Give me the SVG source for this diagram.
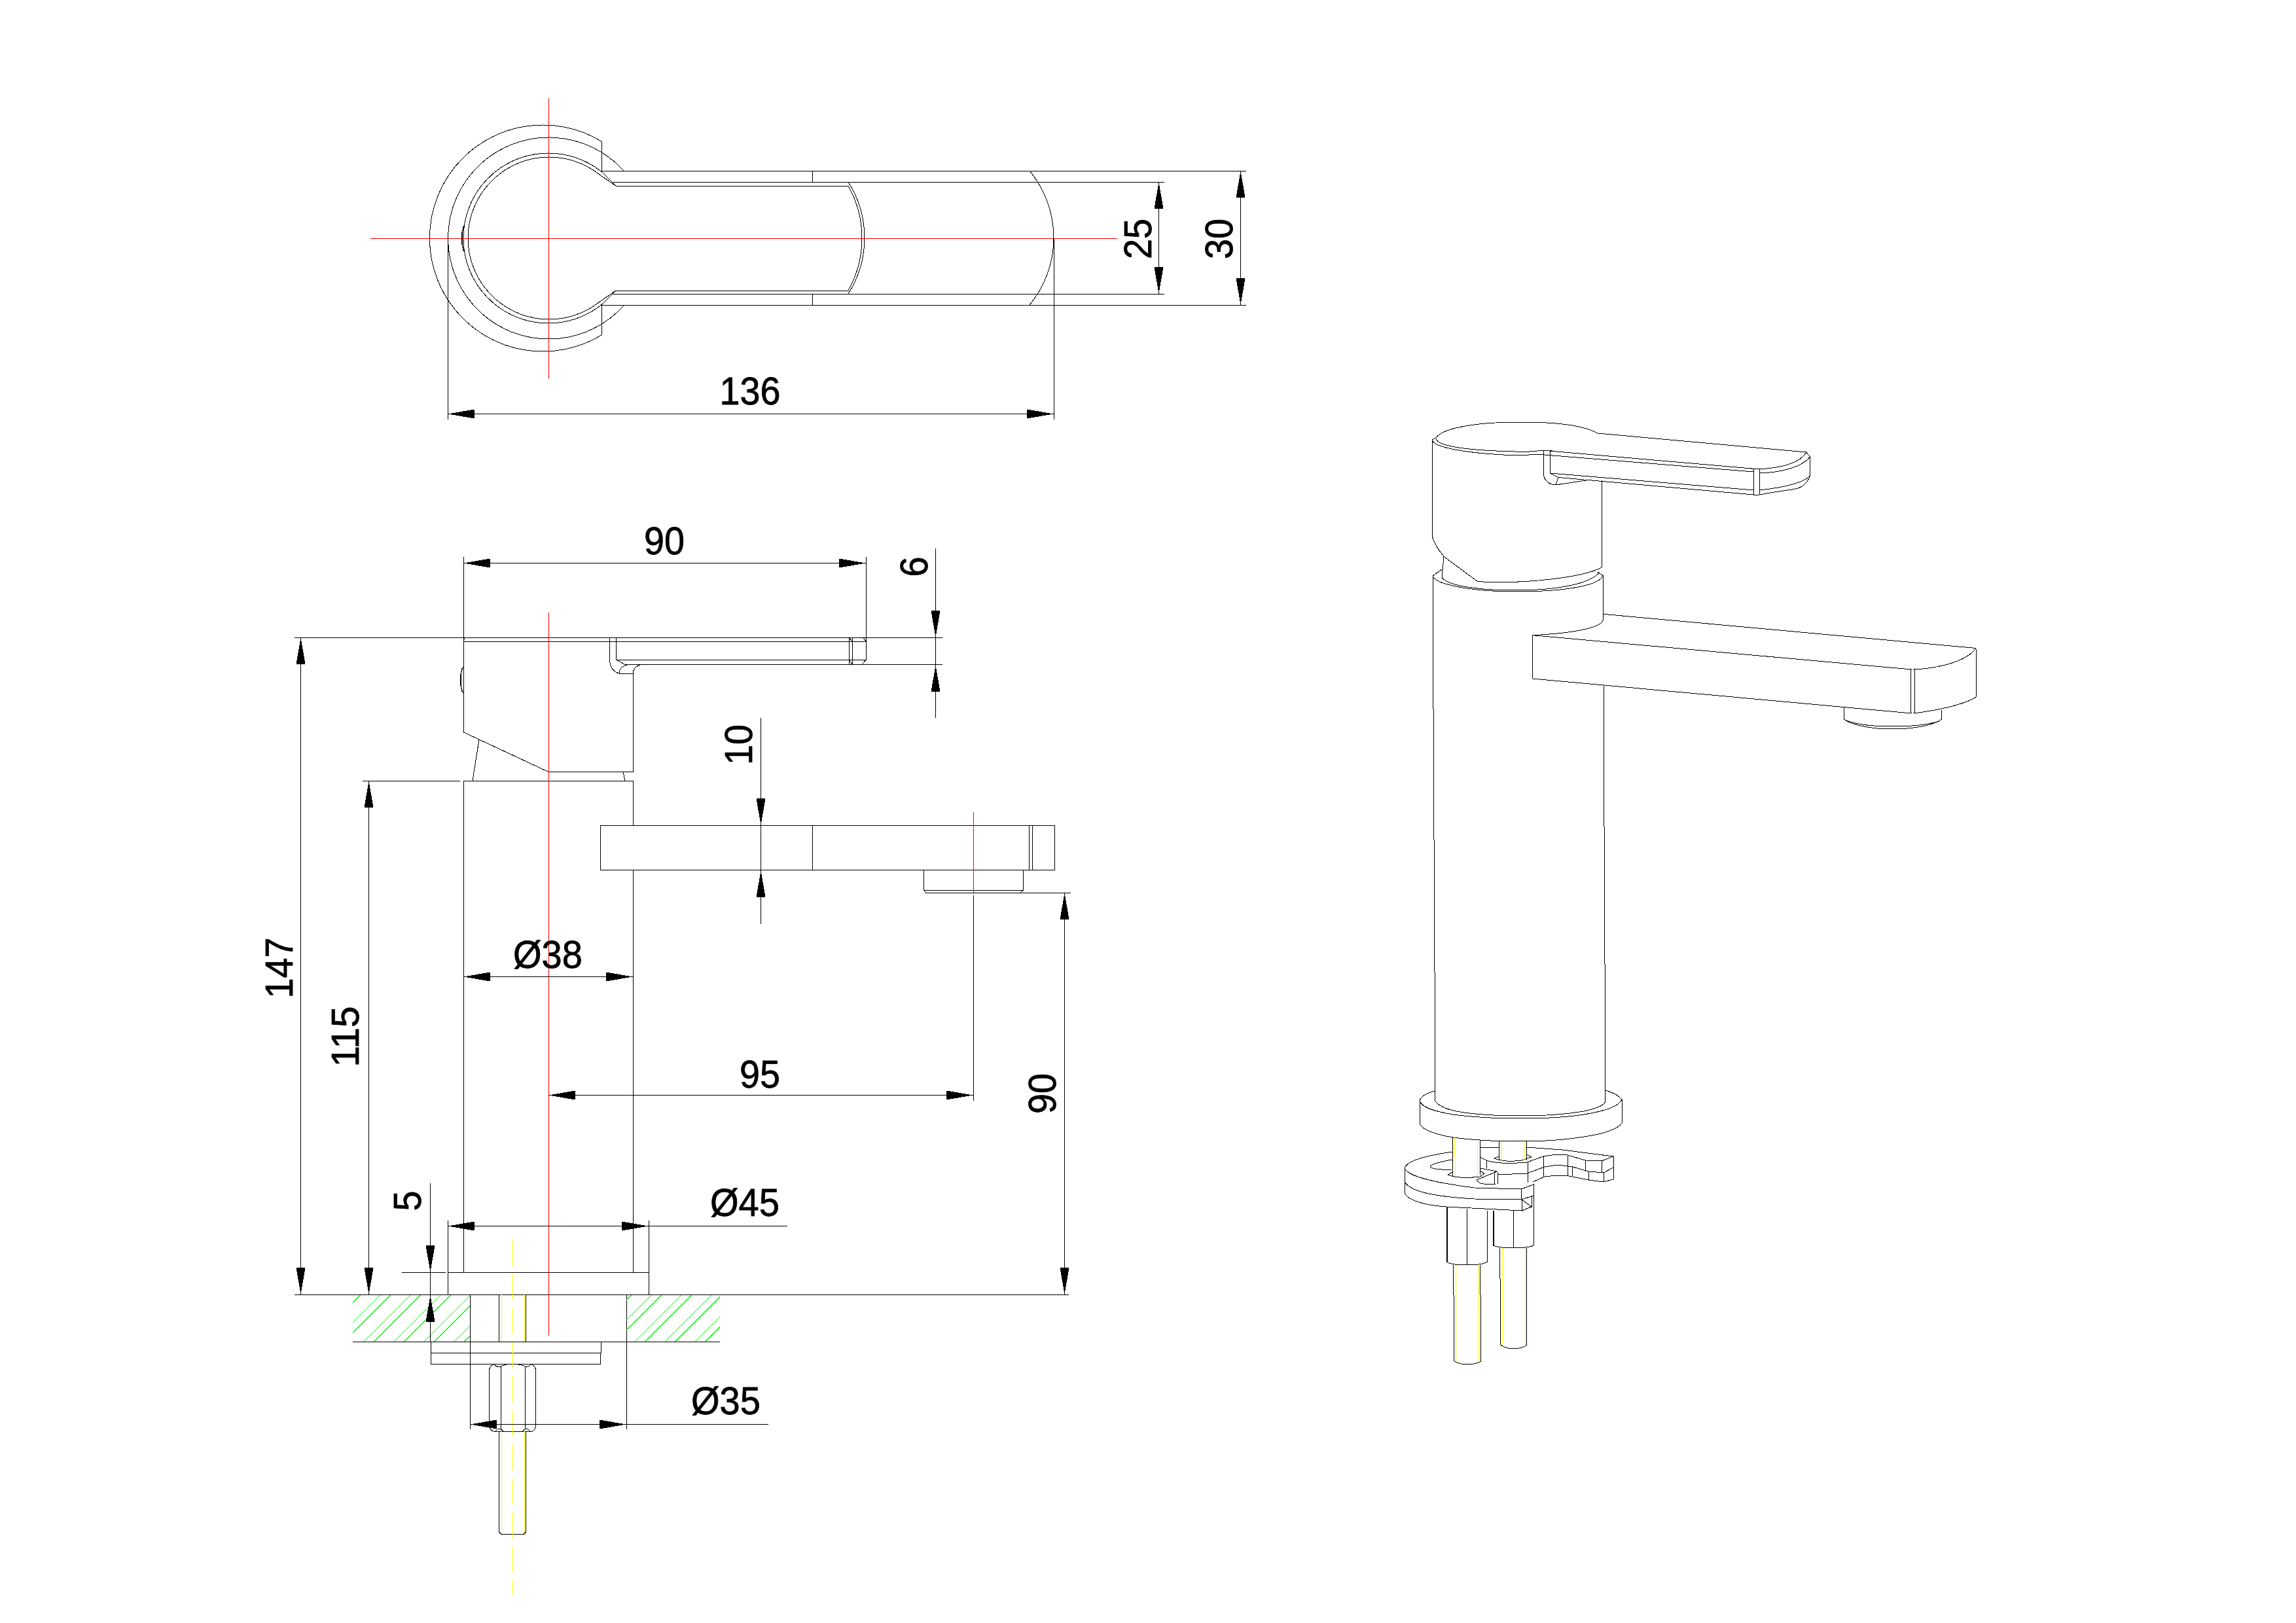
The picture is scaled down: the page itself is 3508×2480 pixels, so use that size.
<svg xmlns="http://www.w3.org/2000/svg" width="3508" height="2480" viewBox="0 0 3508 2480">
<style>
path,line{fill:none;stroke:#000;stroke-width:1;shape-rendering:crispEdges}
.r{stroke:#f00}
.y{stroke:#ff0}
.g{stroke:#0f0;stroke-width:1}
.ar{marker-start:url(#arw);marker-end:url(#arw)}
.ae{marker-end:url(#arw)}
text{font-family:"Liberation Sans",Arial,sans-serif;font-size:60px;fill:#000;stroke:#000;stroke-width:.8;text-anchor:middle}
</style>
<defs>
<marker id="arw" markerUnits="userSpaceOnUse" viewBox="-42 -8 43 16" refX="0" refY="0" markerWidth="43" markerHeight="16" orient="auto-start-reverse" overflow="visible"><path d="M-41-7L0 0L-41 7Z" style="fill:#000;stroke:none"/></marker>
<clipPath id="hatch"><path d="M539 1979H718V2050H539ZM957 1979H1100V2050H957Z"/></clipPath>
</defs>
<rect width="3508" height="2480" fill="#fff"/>

<g id="top-view">
<path d="M919 216A173 173 0 1 0 919 512M919 216V261M919 466V512"/>
<path d="M953 261A154 154 0 1 0 953 467"/>
<path d="M921 264A130 130 0 1 0 921 464M921 264L935 278M921 464L935 450"/>
<path d="M915 266A124 124 0 1 0 915 462M915 266L941 284M915 462L941 444M935 278L941 284M935 450L941 444"/>
<path d="M709 345Q701 364 709 384M708 346Q704 364 708 383"/>
<path d="M919 261.500H1904M919 466.500H1904M935 278.500H1779M935 449.500H1779M941 284.500H1296M941 444.500H1296"/>
<path d="M1241.500 261V278M1241.500 449V466"/>
<path d="M1296 278A159 159 0 0 1 1296 449M1296 284A163 163 0 0 1 1296 444"/>
<path d="M1573 261A160.500 160.500 0 0 1 1573 466"/>
<path class="r" d="M566 364.500H1707M838.500 150V579"/>
</g>

<g id="side-view">
<path d="M450 974.500H1440M708 980.500H1323M708.500 974V1119L838 1179.500H967.500V1029M946 1029.500H967M954 1015.500H1440M941 1008.500H1323"/>
<path d="M931.500 975V1008Q932 1025 946 1029M941.500 975V1008L954 1015M946 1029Q946 1018 960 1015.500M967 1029Q968 1018 980 1015.500"/>
<path d="M1297.500 974V1015M1302.500 974V1015M1297 974L1302 980M1297 1008L1302 1015M1323.500 851V1008L1317 1015M1319 974L1323 980M708 978L711 974"/>
<path d="M732 1130L722 1193M952 1179.500L955 1193"/>
<path d="M708 1193.500H967M708.500 1193V1944M967.500 1193V1261M967.500 1329V1944M554 1193.500H703"/>
<path d="M708 1019Q698 1039 708 1059M706 1021Q702 1039 706 1057"/>
<path d="M917.500 1261.500H1611V1329.500H917.500ZM1241.500 1261V1329M1572.500 1261V1329M1577.500 1261V1329"/>
<path d="M1411.500 1329V1360L1415 1364.500H1636M1563.500 1329V1360L1559 1364M1411 1360.500H1563"/>
<path d="M684 1944.500H991M684.500 1865V1978M991.500 1865V1978M614 1944.500H681M450 1978.500H1633"/>
<path d="M539 2050.500H1100M718.500 1978V2184M957.500 1978V2184"/>
<path class="g" clip-path="url(#hatch)" d="M2529.500 0L0 2529.500M2560 0L0 2560M2575.500 0L0 2575.500M2606 0L0 2606M2621.500 0L0 2621.500M2652 0L0 2652M2667.500 0L0 2667.500M2698 0L0 2698M2713.500 0L0 2713.500M2744 0L0 2744M2759.500 0L0 2759.500M2943.500 0L0 2943.500M2974 0L0 2974M2989.500 0L0 2989.500M3020 0L0 3020M3035.500 0L0 3035.500M3066 0L0 3066M3081.500 0L0 3081.500M3112 0L0 3112M3127.500 0L0 3127.500"/>
<path d="M658.500 2050V2084.500H917.500V2067.500M658 2067.500H918.500V2050"/>
<path d="M762.500 1978V2050M803.500 1978V2050M762.500 2187V2341L766 2344.500H800L803.500 2341V2187"/>
<path d="M754 2084.500Q747.500 2088 747.500 2095V2176Q748 2186 754 2187H813Q818.500 2186 818.500 2176V2095Q818.500 2088 812 2084.500M765.500 2088V2184M802.500 2088V2184M754 2084.500Q760 2090 765 2088Q772 2084 783 2084.500Q794 2084 802 2088Q806 2090 812 2084.500M757 2187Q762 2181 765 2184L769 2187M798 2187L802 2184Q805 2181 810 2187"/>
<path class="y" d="M766.500 1978V2050M801.500 1978V2050M766.500 2187V2342M801.500 2187V2342"/>
<path class="y" stroke-dasharray="40 12" d="M783.500 1895V2437"/>
<path class="r" d="M838.500 936V2041M1487.500 1241V1364"/>
<path d="M1487.500 1368V1682"/>
</g>

<g id="iso-view">
<path d="M2441 662L2760 691Q2762 694 2765.600 698V727Q2759 745 2740 747.700Q2710 752 2688 756H2679.500L2381 729.500"/>
<path d="M2441 662C2415 648 2370 645 2321 645C2260 645 2205 653 2194 669C2193 680 2230 688 2315 690Q2340 691 2355 688L2688 717C2720 715 2750 708 2760 691"/>
<path d="M2194 669L2188.500 672C2188 682 2230 692 2309 695.600L2355 694.600L2679.500 721M2688 723C2725 722 2755 712 2765.600 698"/>
<path d="M2368 723L2679.500 749M2688 749C2725 745 2755 738 2765.600 727"/>
<path d="M2358 688V723M2368 688V723M2358 723Q2360 740 2377 741L2423 734M2381 729.500L2377 741M2368 723L2381 729.500M2368 688L2372 688"/>
<path d="M2679.500 717V756M2688 717V756M2679.500 717L2684 716L2688 717"/>
<path d="M2447 734V867C2420 882 2330 893 2257.600 888.600L2206 850.500Q2190 830 2188.500 819V672"/>
<path d="M2206 850.500L2203 882C2210 895 2260 902 2315 902C2375 902 2430 893 2444 874"/>
<path d="M2444 874L2441 875L2449 879M2203 870L2189 880C2192 893 2250 904 2315 904C2390 904 2445 895 2449 879"/>
<path d="M2189 880L2193 1683M2449 879V948M2450 1048L2453 1683"/>
<path d="M2450 938.400L3019 990.500M2449 948C2445 960 2400 968 2341 970.600L2920.600 1023M2341 970.600L2341.500 1037L2920.600 1090M2919 1023V1090M2925 1023V1090M2923.500 1023C2965 1021 3005 1010 3019 990.500L3020 1064.500C3005 1075 2965 1085 2923.500 1090"/>
<path d="M2817 1081V1099C2830 1108 2860 1114 2889 1114C2925 1114 2955 1108 2966.500 1099V1085M2821 1101C2840 1108 2865 1110 2889 1110C2915 1110 2945 1108 2963 1102"/>
<path d="M2193 1667Q2172 1672 2169 1682V1717C2172 1725 2190 1733 2220 1738C2250 1742 2285 1744 2320 1744C2355 1744 2390 1742 2420 1737C2450 1733 2472 1725 2478 1716V1680Q2472 1672 2453 1666"/>
<path d="M2169 1682C2172 1692 2190 1698 2220 1703C2250 1707 2285 1709 2320 1709C2355 1709 2390 1708 2420 1703C2450 1698 2472 1692 2478 1680"/>
<path d="M2193 1683C2200 1692 2215 1697 2237 1700C2265 1704 2295 1705 2323 1705C2355 1705 2390 1703 2420 1698C2438 1694 2450 1690 2453 1683"/>
<path d="M2219 1738V1798M2261 1742V1795M2290 1744V1773M2332 1744V1773"/>
<path d="M2212 1795C2225 1800 2245 1800 2261 1798L2268 1793M2212 1795L2219 1791M2261 1789L2268 1793"/>
<path d="M2283 1770C2295 1775 2310 1775 2325 1773L2340 1768L2332 1764M2283 1770L2290 1767"/>
<path d="M2219 1760C2185 1765 2150 1772 2146 1785C2150 1795 2175 1805 2253 1815L2324 1817L2343 1810V1827L2324 1833V1817M2146 1785V1822C2150 1835 2180 1842 2210 1844L2325 1850V1833L2340 1844V1828"/>
<path d="M2146 1806C2155 1820 2185 1828 2253 1832L2324 1833M2325 1850L2340 1844"/>
<path d="M2219 1772Q2185 1778 2185 1783Q2190 1788 2219 1787"/>
<path d="M2256 1803L2287 1790L2262 1785M2256 1803Q2260 1809 2267 1809H2285M2283 1792V1809M2288 1791V1809"/>
<path d="M2261 1753L2290 1754M2332 1753L2387 1757L2465 1767V1802L2450 1806L2427 1803L2397 1797Q2380 1795 2360 1798L2342 1806"/>
<path d="M2261 1768L2271 1773C2285 1778 2310 1778 2333 1776L2358 1767L2377 1764L2395 1765L2422 1773L2447 1774L2465 1767"/>
<path d="M2288 1795L2333 1793L2360 1783L2380 1780L2403 1783L2427 1790L2450 1792L2465 1784"/>
<path d="M2271 1773V1785M2334 1776V1807M2358 1767V1798M2395 1765V1797M2402 1782V1797M2422 1773V1790M2427 1790V1803M2447 1774V1792M2450 1792V1806"/>
<path d="M2210 1844V1928Q2218 1933 2240 1933Q2265 1933 2272.700 1928V1850M2241.700 1847V1932M2211 1844V1928"/>
<path d="M2281 1850V1903Q2290 1907 2312 1907Q2335 1907 2343 1903V1827M2312.700 1850V1907M2282 1850V1903"/>
<path d="M2220.700 1933L2221.700 2080Q2232 2085 2240 2085Q2255 2085 2262.700 2080L2261.700 1933M2291.700 1907L2292.700 2055Q2302 2061 2312 2061Q2325 2061 2333 2055L2332 1907"/>
<path class="y" d="M2222 1738L2224 1798M2257 1742V1798M2294 1744V1775M2328 1744V1772M2224 1933L2225 2080M2258 1933L2260 2080M2295 1907L2296 2055M2330 1907L2331 2055"/>
</g>

<g id="dimensions">
<line class="ar" x1="684" y1="632.500" x2="1610" y2="632.500"/>
<path d="M684.500 364V641M1610.500 364V641"/>
<line class="ar" x1="1770.500" y1="278" x2="1770.500" y2="449"/>
<line class="ar" x1="1895.500" y1="261" x2="1895.500" y2="466"/>
<line class="ar" x1="708" y1="860.500" x2="1323" y2="860.500"/>
<path d="M708.500 851V975"/>
<path d="M1429.500 838V1097M1162.500 1097V1412"/>
<line class="ae" x1="1429.500" y1="900" x2="1429.500" y2="974"/>
<line class="ae" x1="1429.500" y1="1080" x2="1429.500" y2="1016"/>
<line class="ae" x1="1162.500" y1="1190" x2="1162.500" y2="1261"/>
<line class="ae" x1="1162.500" y1="1400" x2="1162.500" y2="1330"/>
<line class="ar" x1="459.500" y1="974" x2="459.500" y2="1978"/>
<line class="ar" x1="563.500" y1="1193" x2="563.500" y2="1978"/>
<line class="ar" x1="1626.500" y1="1364" x2="1626.500" y2="1978"/>
<line class="ar" x1="708" y1="1492.500" x2="967" y2="1492.500"/>
<line class="ar" x1="838" y1="1673.500" x2="1487" y2="1673.500"/>
<line class="ar" x1="684" y1="1873.500" x2="991" y2="1873.500"/>
<path d="M991 1873.500H1203"/>
<line class="ae" x1="657.500" y1="1850" x2="657.500" y2="1944"/>
<line class="ae" x1="657.500" y1="2040" x2="657.500" y2="1979"/>
<path d="M657.500 1808V2050"/>
<line class="ar" x1="718" y1="2176.500" x2="957" y2="2176.500"/>
<path d="M957 2176.500H1174"/>
</g>

<g id="labels">
<text x="1146" y="618" textLength="93" lengthAdjust="spacingAndGlyphs">136</text>
<text transform="translate(1759 365) rotate(-90)" textLength="62" lengthAdjust="spacingAndGlyphs">25</text>
<text transform="translate(1883 365) rotate(-90)" textLength="62" lengthAdjust="spacingAndGlyphs">30</text>
<text x="1015" y="847" textLength="62" lengthAdjust="spacingAndGlyphs">90</text>
<text transform="translate(1417 866) rotate(-90)" textLength="31" lengthAdjust="spacingAndGlyphs">6</text>
<text transform="translate(1149 1138) rotate(-90)" textLength="62" lengthAdjust="spacingAndGlyphs">10</text>
<text transform="translate(447 1479) rotate(-90)" textLength="93" lengthAdjust="spacingAndGlyphs">147</text>
<text transform="translate(548 1584) rotate(-90)" textLength="93" lengthAdjust="spacingAndGlyphs">115</text>
<text x="837" y="1479" textLength="106" lengthAdjust="spacingAndGlyphs">Ø38</text>
<text x="1161" y="1662" textLength="62" lengthAdjust="spacingAndGlyphs">95</text>
<text transform="translate(1613 1671) rotate(-90)" textLength="62" lengthAdjust="spacingAndGlyphs">90</text>
<text transform="translate(643 1835) rotate(-90)" textLength="31" lengthAdjust="spacingAndGlyphs">5</text>
<text x="1138" y="1858" textLength="106" lengthAdjust="spacingAndGlyphs">Ø45</text>
<text x="1109" y="2161" textLength="106" lengthAdjust="spacingAndGlyphs">Ø35</text>
</g>
</svg>
